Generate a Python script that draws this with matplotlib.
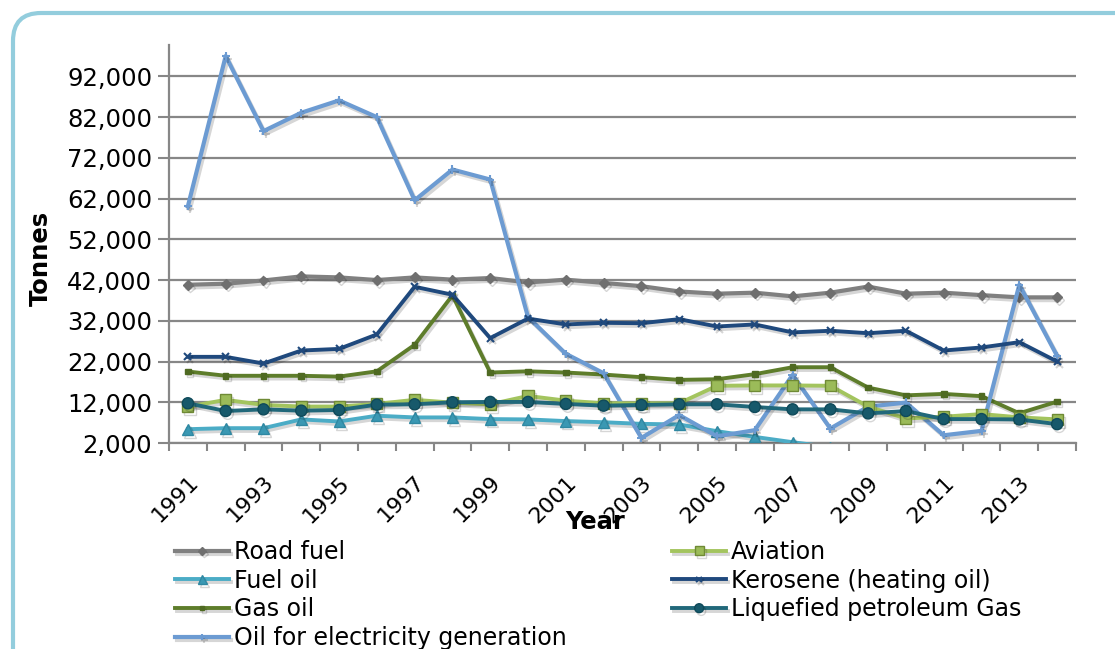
import matplotlib
matplotlib.use("Agg")
import matplotlib.pyplot as plt
import matplotlib.patheffects as pe
from matplotlib.patches import FancyBboxPatch
from matplotlib.transforms import IdentityTransform
from matplotlib.ticker import FuncFormatter, FixedLocator
import numpy as np

plt.rcParams['font.family'] = ['DejaVu Sans']

years = list(range(1991, 2015))
road_fuel = [40850, 41100, 41900, 42900, 42650, 42000, 42650, 42100, 42500, 41400, 42100, 41300,
             40500, 39200, 38650, 38900, 38000, 38900, 40400, 38650, 38900, 38300, 37750, 37750]
aviation = [10900, 12600, 11350, 10950, 10950, 11600, 12600, 11900, 11500, 13550, 12400, 11750,
            11750, 11750, 16050, 16130, 16130, 16050, 10930, 8030, 8450, 9100, 8300, 7800]
fuel_oil = [5390, 5640, 5640, 7790, 7290, 8700, 8280, 8280, 7870, 7790, 7380, 7100,
            6700, 6550, 4900, 3500, 2200, 1000, 0, 0, 0, 0, 0, 0]
kerosene = [23150, 23150, 21500, 24700, 25100, 28650, 40350, 38400, 27750, 32550, 31100, 31500,
            31400, 32400, 30600, 31100, 29150, 29550, 28950, 29550, 24700, 25450, 26750, 22000]
gas_oil = [19550, 18500, 18500, 18500, 18300, 19600, 26100, 38250, 19300, 19600, 19300, 18800,
           18150, 17500, 17650, 18900, 20600, 20600, 15600, 13700, 14050, 13500, 9300, 12150]
lpg = [11750, 9850, 10260, 9930, 10100, 11420, 11500, 12000, 12080, 12080, 11590, 11170,
       11340, 11500, 11500, 10840, 10260, 10260, 9270, 9850, 7870, 7870, 7780, 6630]
oil_elec = [60110, 97000, 78560, 83070, 86100, 82000, 61590, 69130, 66670, 32900, 23900, 19130,
            3240, 8860, 3650, 5140, 18720, 5550, 10930, 11920, 3900, 4980, 40850, 23390]

y_ticks = list(range(2000, 92001, 10000))

fig = plt.figure(figsize=(11.15, 6.49), dpi=100)
ax = fig.add_axes([169/1115, 1-443/649, (1076-169)/1115, (443-45)/649])

x = np.arange(len(years))
shadow = [pe.SimpleLineShadow(offset=(1.5, -2), shadow_color='black', alpha=0.16), pe.Normal()]

series = [
    ("Road fuel", road_fuel, dict(color='#808080', marker='D', ms=5, mfc='#6f6f6f', mec='#6f6f6f', lw=3.0)),
    ("Fuel oil", fuel_oil, dict(color='#4BACC6', marker='^', ms=8, mfc='#3a98b3', mec='#2f88a2', lw=2.8)),
    ("Gas oil", gas_oil, dict(color='#5E7D2B', marker='s', ms=4, mfc='#4F6A22', mec='#4F6A22', lw=2.8)),
    ("Oil for electricity generation", oil_elec, dict(color='#6C9BD2', marker='+', ms=6, mfc='#6C9BD2', mec='#6C9BD2', mew=1.5, lw=3.0)),
    ("Aviation", aviation, dict(color='#A3C45E', marker='s', ms=8, mfc='#9BBB59', mec='#6f8a35', lw=2.8)),
    ("Kerosene (heating oil)", kerosene, dict(color='#1F497D', marker='x', ms=5, mfc='#1F497D', mec='#1F497D', mew=1.5, lw=2.8)),
    ("Liquefied petroleum Gas", lpg, dict(color='#21687A', marker='o', ms=8, mfc='#17596b', mec='#0f4a5a', lw=2.8)),
]
draw_order = [0, 4, 1, 5, 2, 6, 3]
handles = {}
for k in draw_order:
    name, vals, st = series[k]
    ln, = ax.plot(x, vals, label=name, path_effects=shadow, zorder=3 + k * 0.1, **st)
    handles[k] = ln

ax.set_xlim(-0.5, len(years) - 0.5)
ax.set_ylim(2000, 99700)
ax.yaxis.set_major_locator(FixedLocator(y_ticks))
ax.yaxis.set_major_formatter(FuncFormatter(lambda v, p: f"{int(v):,}"))
ax.grid(axis='y', color='#878787', lw=1.6)
ax.set_axisbelow(True)

ax.set_xticks(x[::2])
ax.set_xticklabels([str(y) for y in years[::2]], rotation=45, ha='right', va='top',
                   rotation_mode='anchor', fontsize=16)
ax.set_xticks(np.arange(-0.5, len(years), 1), minor=True)
ax.tick_params(axis='x', which='major', length=0, pad=21)
ax.tick_params(axis='x', which='minor', length=6, width=1.5, color='#878787', direction='out')
ax.tick_params(axis='y', length=8, width=1.5, color='#878787', labelsize=17.5, pad=4)

for s in ['top', 'right']:
    ax.spines[s].set_visible(False)
for s in ['left', 'bottom']:
    ax.spines[s].set_color('#878787')
    ax.spines[s].set_linewidth(1.6)

fig.text(41/1115, 1-258/649, "Tonnes", rotation=90, fontsize=17.5, fontweight='bold',
         ha='center', va='center')
fig.text(595/1115, 1-522/649, "Year", fontsize=17.5, fontweight='bold', ha='center', va='center')

leg_kw = dict(frameon=False, fontsize=17, handlelength=2.3, handletextpad=0.2,
              labelspacing=0.2, borderpad=0, borderaxespad=0, loc='upper left', markerscale=0.8)
leg1 = fig.legend([handles[k] for k in [0, 1, 2, 3]], [series[k][0] for k in [0, 1, 2, 3]],
                  bbox_to_anchor=(175/1115, 1-540/649), **leg_kw)
leg2 = fig.legend([handles[k] for k in [4, 5, 6]], [series[k][0] for k in [4, 5, 6]],
                  bbox_to_anchor=(672/1115, 1-540/649), **leg_kw)

border = FancyBboxPatch((13, -60), 1160, 649 - 13 + 60,
                        boxstyle="round,pad=0,rounding_size=28",
                        transform=IdentityTransform(), fill=False,
                        ec='#93CDDD', lw=3.0, zorder=10)
fig.add_artist(border)

fig.savefig("out.png", dpi=100)
